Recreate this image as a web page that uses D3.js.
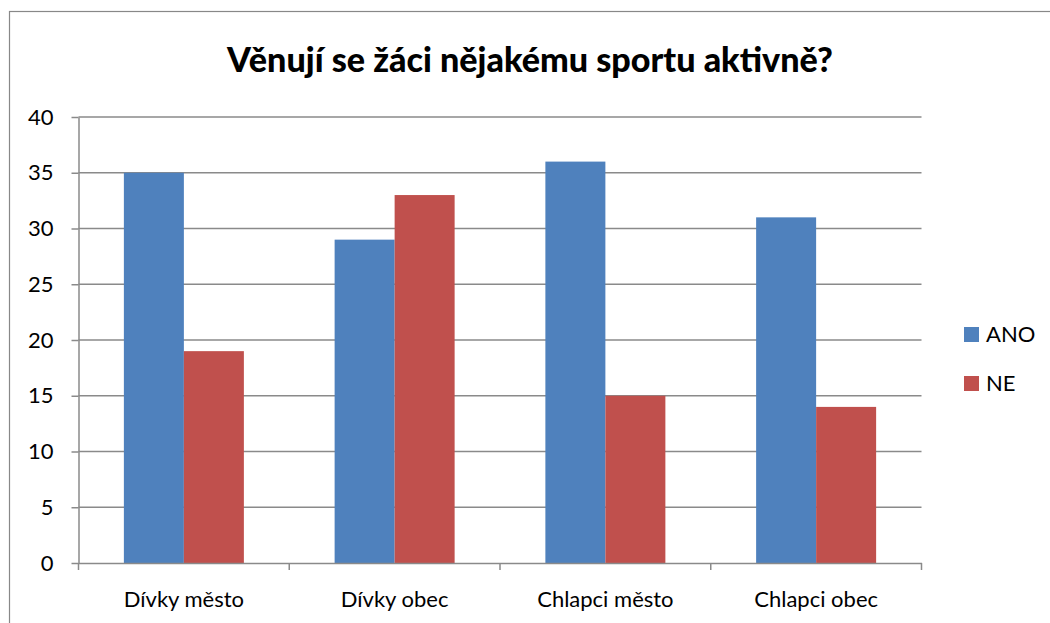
<!DOCTYPE html>
<html><head><meta charset="utf-8">
<script src="https://cdn.jsdelivr.net/npm/d3@7"></script>
<style>body{margin:0;background:#fff}svg{display:block}text{font-family:Lato,"Open Sans",sans-serif}</style>
</head><body><svg id="c" width="1050" height="623"></svg>
<script>
const title = "Věnují se žáci nějakému sportu aktivně?";
const categories = ["Dívky město","Dívky obec","Chlapci město","Chlapci obec"];
const seriesNames = ["ANO","NE"];
const ano = [35,29,36,31];
const ne = [19,33,15,14];
const yTicks = [0,5,10,15,20,25,30,35,40];
const colors = ["#4F81BD","#C0504D"];

const svg = d3.select("#c");
svg.append("rect").attr("x",9.5).attr("y",11.5).attr("width",1100).attr("height",700)
  .attr("fill","none").attr("stroke","#888").attr("stroke-width",1.2);

const L=78.5, R=921.5, T=117, B=563;
const FS = 22;
const x = d3.scaleBand().domain(categories).range([L,R]).paddingInner(0.4306).paddingOuter(0.2153);
const xs = d3.scaleBand().domain(seriesNames).range([0,x.bandwidth()]);
const y = d3.scaleLinear().domain([0,40]).range([B,T]);

// gridlines
svg.append("g").selectAll("line").data(yTicks.filter(d=>d>0)).join("line")
  .attr("x1",L).attr("x2",R).attr("y1",d=>y(d)).attr("y2",d=>y(d))
  .attr("stroke","#8a8a8a").attr("stroke-width",1.5);

// bars
const data = categories.map((c,i)=>({c, vals:[ano[i],ne[i]]}));
const g = svg.append("g");
data.forEach(d=>{
  d.vals.forEach((v,j)=>{
    g.append("rect").attr("x",x(d.c)+xs(seriesNames[j])).attr("y",y(v))
      .attr("width",xs.bandwidth()).attr("height",B-y(v)).attr("fill",colors[j]);
  });
});

// y axis
const ya = d3.axisLeft(y).tickValues(yTicks).tickSize(7).tickPadding(18).tickSizeOuter(0);
const yg = svg.append("g").attr("transform",`translate(${L},0)`).call(ya);
yg.select(".domain").attr("stroke","#8a8a8a").attr("stroke-width",1.5);
yg.selectAll(".tick line").attr("stroke","#8a8a8a").attr("stroke-width",1.5);
yg.selectAll("text").attr("font-size",FS).attr("fill","#000").attr("font-family","Lato, sans-serif");

// x axis
const xa = d3.axisBottom(x).tickSize(0).tickPadding(28).tickSizeOuter(0);
const xg = svg.append("g").attr("transform",`translate(0,${B})`).call(xa);
xg.select(".domain").attr("stroke","#8a8a8a").attr("stroke-width",1.5);
xg.selectAll("text").attr("font-size",FS).attr("fill","#000").attr("font-family","Lato, sans-serif");
const step = x.step();
const bounds = d3.range(categories.length+1).map(i=>L+i*step);
xg.selectAll("line.sep").data(bounds).join("line").attr("class","sep")
  .attr("x1",d=>d).attr("x2",d=>d).attr("y1",0).attr("y2",7)
  .attr("stroke","#8a8a8a").attr("stroke-width",1.5);

// title
const t = svg.append("text").attr("x",530).attr("y",72).attr("text-anchor","middle")
  .attr("font-weight","900").attr("font-size",31).attr("fill","#000").text(title);
const w = t.node().getComputedTextLength();
t.attr("font-size",31*606/w);

// legend
const lg = svg.append("g");
seriesNames.forEach((s,i)=>{
  lg.append("rect").attr("x",964).attr("y",327+i*49).attr("width",15).attr("height",15).attr("fill",colors[i]);
  lg.append("text").attr("x",986).attr("y",342+i*49).attr("font-size",FS).attr("fill","#000").text(s);
});
</script></body></html>
